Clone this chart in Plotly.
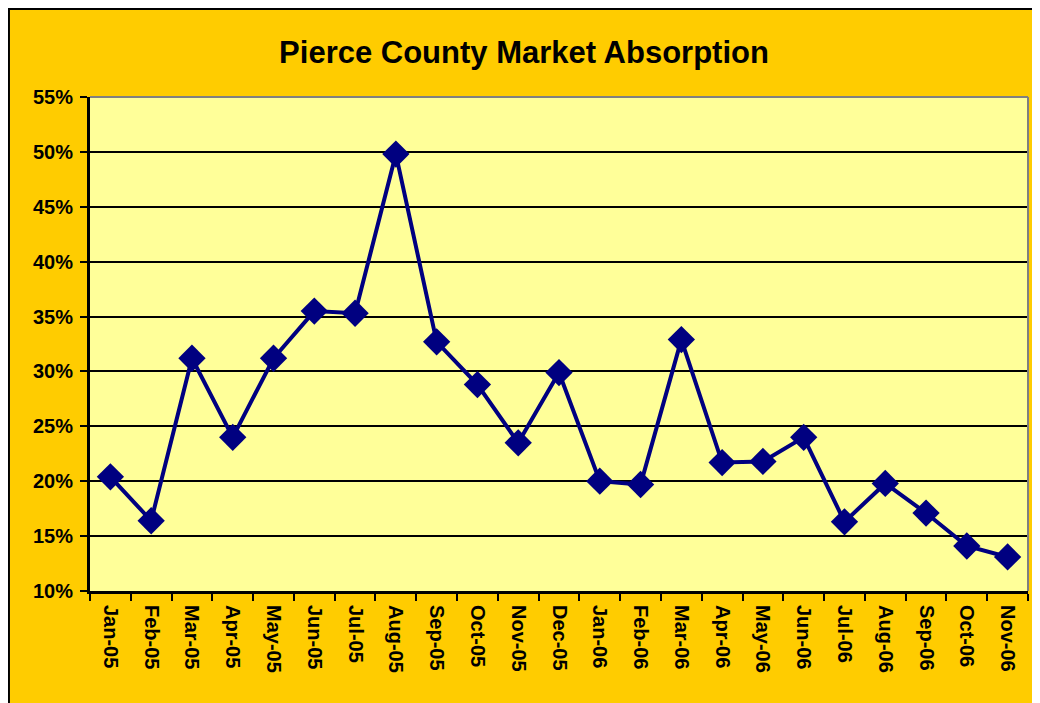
import plotly.graph_objects as go

months = ["Jan-05", "Feb-05", "Mar-05", "Apr-05", "May-05", "Jun-05", "Jul-05",
          "Aug-05", "Sep-05", "Oct-05", "Nov-05", "Dec-05", "Jan-06", "Feb-06",
          "Mar-06", "Apr-06", "May-06", "Jun-06", "Jul-06", "Aug-06", "Sep-06",
          "Oct-06", "Nov-06"]
absorption = [20.4, 16.4, 31.2, 24.0, 31.2, 35.5, 35.3, 49.8, 32.7, 28.8, 23.5,
              29.9, 20.0, 19.7, 32.9, 21.7, 21.8, 24.0, 16.3, 19.8, 17.1, 14.1, 13.1]

navy = "#000080"
font = "Liberation Sans, Arial, sans-serif"

fig = go.Figure(go.Scatter(
    x=months, y=absorption, mode="lines+markers",
    line=dict(color=navy, width=4),
    marker=dict(symbol="diamond", size=21, color=navy),
    hoverinfo="x+y",
))

# the page body adds an 8px margin, so the figure is sized to fit inside it
fig.update_layout(
    width=1032, height=695,
    margin=dict(l=82, r=12, t=89, b=112),
    paper_bgcolor="#FFCC00",
    plot_bgcolor="#FFFF99",
    showlegend=False,
    font=dict(family=font, color="black", size=20),
    title=dict(text="<b>Pierce County Market Absorption</b>",
               x=0.5, xanchor="center", y=0.937, yanchor="middle",
               font=dict(size=31, family=font, color="black")),
    shapes=[
        # chart area border
        dict(type="rect", xref="paper", yref="paper", layer="below",
             x0=-0.0864, x1=1.03, y0=-0.26, y1=1.178,
             fillcolor="#FFCC00", line=dict(color="black", width=2)),
        # plot area fill
        dict(type="rect", xref="paper", yref="paper", layer="below",
             x0=0, x1=1, y0=0, y1=1,
             fillcolor="#FFFF99", line=dict(width=0)),
        # plot area border, top and right
        dict(type="line", xref="paper", yref="paper", x0=0, x1=1, y0=1, y1=1,
             line=dict(color="#808080", width=2)),
        dict(type="line", xref="paper", yref="paper", x0=1, x1=1, y0=0, y1=1,
             line=dict(color="#808080", width=2)),
    ],
)

fig.update_xaxes(
    type="category", range=[-0.5, len(months) - 0.5],
    tickson="boundaries", ticks="outside", ticklen=7,
    tickwidth=2, tickcolor="black", tickangle=90, automargin=False,
    showline=True, linecolor="black", linewidth=3, showgrid=False,
    tickfont=dict(size=20, family=font, weight="bold"), ticklabelstandoff=7,
)
fig.update_yaxes(
    range=[10, 55], dtick=5, ticksuffix="%", ticks="outside", ticklen=7,
    tickwidth=2, tickcolor="black", automargin=False,
    showline=True, linecolor="black", linewidth=3,
    showgrid=True, gridcolor="black", gridwidth=1.5, zeroline=False,
    tickfont=dict(size=20, family=font, weight="bold"), ticklabelstandoff=3,
)

fig.write_html("out.html")
